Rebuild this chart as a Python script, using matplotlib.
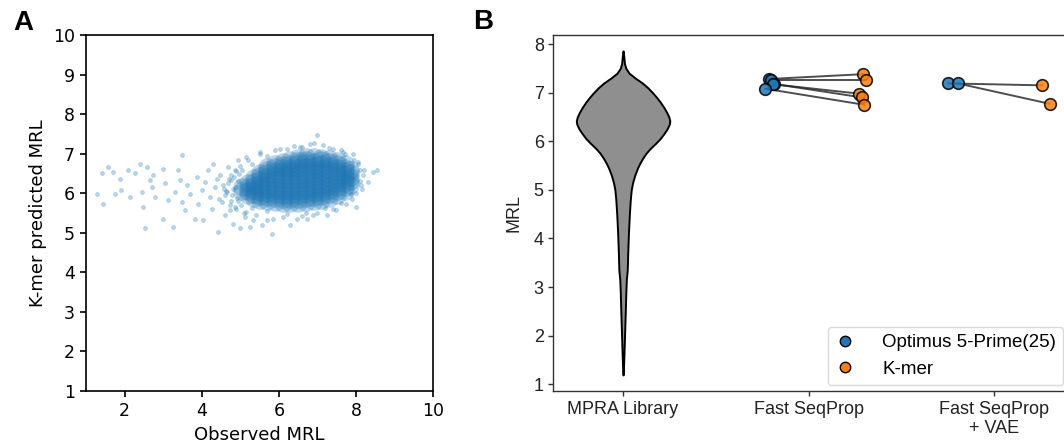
import matplotlib
matplotlib.use('Agg')
import matplotlib.pyplot as plt
from matplotlib.lines import Line2D

# ---- panel A data: observed vs k-mer predicted MRL ----
# scattered points around the cloud
obs_mrl = [1.28, 1.41, 1.45, 1.58, 1.71, 1.75, 1.88, 1.92, 2.10, 2.14, 2.27, 2.40, 2.44,
           2.48, 2.53, 2.57, 2.66, 2.70, 2.74, 2.79, 3.00, 3.00, 3.05, 3.13, 3.26, 3.31,
           3.39, 3.44, 3.48, 3.48, 3.56, 3.61, 3.69, 3.82, 3.87, 3.91, 4.00, 4.04, 4.08,
           4.17, 4.21, 4.26, 4.30, 4.34, 4.43, 4.47, 4.52, 4.60, 4.65, 4.69, 4.77, 4.82,
           4.86, 4.95, 4.99, 5.12, 5.16, 5.25, 5.33, 5.51, 5.55, 5.81, 5.85, 6.03, 6.28,
           6.54, 6.72, 6.80, 6.89, 6.98, 7.15, 7.41, 7.67, 7.75, 7.93, 8.01, 8.05, 8.14,
           8.18, 8.31, 8.44, 8.53, 7.88, 8.10, 7.49, 7.24, 6.46, 5.68, 5.16, 4.73,
           4.90, 5.30, 5.70, 6.20, 6.60, 7.30, 7.70, 7.95, 8.10, 8.00, 7.60, 7.20, 6.70,
           6.20, 5.70, 5.30, 4.95, 4.80, 4.75,
           4.55, 4.60, 4.70, 4.75, 4.85, 4.90, 5.00, 5.10, 5.20, 5.40, 5.50, 5.90, 6.10,
           6.40, 6.60, 6.90, 7.00, 7.40, 7.60, 7.90, 8.05, 8.15, 8.20, 4.40, 4.45,
           4.62, 4.68, 4.78, 4.83, 4.88, 4.92, 4.97, 5.02, 5.05, 4.58, 4.72, 4.93]
pred_mrl = [5.99, 6.50, 5.74, 6.66, 6.54, 5.99, 6.37, 6.08, 6.58, 5.91, 6.50, 6.75, 6.03,
            5.65, 5.11, 6.66, 6.33, 6.16, 6.45, 5.91, 6.62, 5.36, 6.25, 5.82, 5.15, 6.03,
            6.58, 6.33, 6.96, 5.78, 5.57, 6.20, 5.99, 5.36, 6.41, 5.74, 6.08, 5.32, 6.29,
            6.58, 5.91, 5.61, 6.75, 6.16, 5.02, 6.45, 5.78, 5.44, 6.03, 6.66, 6.33, 5.23,
            5.65, 6.83, 5.11, 5.40, 6.92, 5.15, 5.32, 7.04, 5.19, 4.98, 5.36, 7.13, 5.19,
            7.17, 5.36, 7.25, 5.44, 7.46, 7.21, 7.13, 7.04, 5.74, 7.00, 5.65, 6.75, 6.20,
            6.45, 6.29, 6.54, 6.58, 5.99, 6.58, 5.57, 5.44, 5.36, 5.32, 5.53, 5.57,
            6.55, 6.75, 6.95, 7.12, 7.18, 7.15, 7.00, 6.85, 6.30, 6.00, 5.75, 5.62, 5.50,
            5.48, 5.55, 5.62, 5.80, 6.10, 6.45,
            6.20, 5.95, 6.35, 5.80, 6.60, 5.60, 6.70, 5.50, 6.85, 5.45, 7.00, 7.10, 5.40,
            7.20, 5.42, 7.28, 5.50, 5.60, 7.10, 5.85, 6.80, 6.10, 6.60, 6.35, 5.85,
            6.05, 6.25, 5.95, 6.40, 6.15, 5.88, 6.48, 5.70, 6.58, 6.10, 5.70, 6.30]

# dense centre of the cloud: predicted MRL values per observed MRL column
core_obs = [5.05, 5.2, 5.35, 5.5, 5.7, 5.9, 6.1, 6.3, 6.5, 6.7, 6.9, 7.1, 7.3, 7.5, 7.7,
            7.85]
core_pred = [
    [6.05, 6.15],
    [5.95, 6.05, 6.15, 6.25],
    [5.88, 5.98, 6.08, 6.18, 6.28, 6.38],
    [5.84, 5.94, 6.04, 6.14, 6.24, 6.34, 6.44, 6.52],
    [5.80, 5.90, 6.00, 6.10, 6.20, 6.30, 6.40, 6.50, 6.60, 6.66],
    [5.77, 5.87, 5.97, 6.07, 6.17, 6.27, 6.37, 6.47, 6.57, 6.67, 6.74],
    [5.75, 5.85, 5.95, 6.05, 6.15, 6.25, 6.35, 6.45, 6.55, 6.65, 6.72, 6.80],
    [5.75, 5.85, 5.95, 6.05, 6.15, 6.25, 6.35, 6.45, 6.55, 6.65, 6.75, 6.85],
    [5.75, 5.85, 5.95, 6.05, 6.15, 6.25, 6.35, 6.45, 6.55, 6.65, 6.75, 6.82, 6.90],
    [5.77, 5.87, 5.97, 6.07, 6.17, 6.27, 6.37, 6.47, 6.57, 6.67, 6.77, 6.85, 6.92],
    [5.80, 5.90, 6.00, 6.10, 6.20, 6.30, 6.40, 6.50, 6.60, 6.70, 6.80, 6.92],
    [5.83, 5.93, 6.03, 6.13, 6.23, 6.33, 6.43, 6.53, 6.63, 6.73, 6.83, 6.90],
    [5.88, 5.98, 6.08, 6.18, 6.28, 6.38, 6.48, 6.58, 6.68, 6.78, 6.86],
    [5.95, 6.05, 6.15, 6.25, 6.35, 6.45, 6.55, 6.65, 6.75, 6.82],
    [6.05, 6.15, 6.25, 6.35, 6.45, 6.55, 6.65, 6.75],
    [6.20, 6.30, 6.40, 6.50, 6.60],
]

# ---- panel B data ----
groups = ['MPRA Library', 'Fast SeqProp', 'Fast SeqProp\n+ VAE']
# MPRA library MRL distribution (violin outline: MRL level, relative density)
violin_mrl = [7.86, 7.75, 7.60, 7.50, 7.40, 7.30, 7.20, 7.10, 7.00, 6.90, 6.80, 6.70,
              6.60, 6.50, 6.42, 6.35, 6.25, 6.15, 6.05, 5.95, 5.85, 5.75, 5.65, 5.55,
              5.45, 5.30, 5.15, 5.00, 4.80, 4.50, 4.10, 3.70, 3.35, 3.15, 2.90, 2.50,
              2.10, 1.70, 1.40, 1.19]
violin_density = [0.0, 0.015, 0.03, 0.06, 0.13, 0.26, 0.41, 0.53, 0.63, 0.72, 0.80, 0.87,
                  0.93, 0.98, 1.0, 0.99, 0.94, 0.87, 0.79, 0.69, 0.58, 0.49, 0.42, 0.36,
                  0.31, 0.25, 0.205, 0.175, 0.155, 0.135, 0.115, 0.10, 0.09, 0.07, 0.06,
                  0.048, 0.035, 0.022, 0.012, 0.0]
fsp_optimus = [7.28, 7.25, 7.17, 7.18, 7.08]
fsp_kmer = [7.38, 7.25, 6.98, 6.90, 6.75]
vae_optimus = [7.19, 7.19]
vae_kmer = [7.15, 6.77]

blue = '#1f77b4'
orange = '#ff7f0e'

fig = plt.figure(figsize=(10.64, 4.48), dpi=100)

# ---------------- panel A ----------------
axA = fig.add_axes([0.0808, 0.1272, 0.3264, 0.7946])
core_x = []
core_y = []
for xv, ys in zip(core_obs, core_pred):
    for yv in ys:
        core_x.append(xv)
        core_y.append(yv)
axA.scatter(core_x, core_y, s=180, color=blue, alpha=0.3, linewidths=0)
axA.scatter(obs_mrl, pred_mrl, s=8, color=blue, alpha=0.3, linewidths=0.5)
axA.set_xlim(1, 10)
axA.set_ylim(1, 10)
axA.set_xticks([2, 4, 6, 8, 10])
axA.set_yticks(range(1, 11))
axA.tick_params(labelsize=12.5, length=4.5, width=1.2)
for s in axA.spines.values():
    s.set_linewidth(1.2)
axA.set_xlabel('Observed MRL', fontsize=13)
axA.set_ylabel('K-mer predicted MRL', fontsize=13)
fig.text(0.022, 0.948, 'A', fontsize=20, fontweight='bold', family='Liberation Sans',
         ha='center', va='center')

# ---------------- panel B ----------------
fB = 'Liberation Sans'
axB = fig.add_axes([0.5202, 0.1272, 0.4845, 0.7946])
half = 0.252
left = [-half * d for d in violin_density]
right = [half * d for d in violin_density]
axB.fill_betweenx(violin_mrl, left, right, facecolor='#8f8f8f', edgecolor='black',
                  linewidth=1.4, zorder=2)

off_fsp_o = [-0.213, -0.20, -0.186, -0.19, -0.233]
off_fsp_k = [0.295, 0.31, 0.27, 0.29, 0.30]
off_vae_o = [-0.246, -0.196]
off_vae_k = [0.257, 0.30]
for pos, yo, yk, oo, ok in [(1, fsp_optimus, fsp_kmer, off_fsp_o, off_fsp_k),
                            (2, vae_optimus, vae_kmer, off_vae_o, off_vae_k)]:
    xo = [pos + o for o in oo]
    xk = [pos + o for o in ok]
    for a, b, c, d in zip(xo, xk, yo, yk):
        axB.plot([a, b], [c, d], color='#222222', alpha=0.8, lw=1.4, zorder=3)
    axB.scatter(xo, yo, s=70, color=blue, edgecolor='black', linewidths=1.2,
                alpha=0.85, zorder=4)
    axB.scatter(xk, yk, s=70, color=orange, edgecolor='black', linewidths=1.2,
                alpha=0.85, zorder=4)

axB.set_xlim(-0.375, 2.404)
axB.set_ylim(0.86, 8.185)
axB.set_xticks([0, 1, 2])
axB.set_xticklabels(groups, fontsize=13, family=fB)
axB.set_yticks(range(1, 9))
axB.set_yticklabels([str(v) for v in range(1, 9)], fontsize=13, family=fB)
axB.tick_params(length=3.5, width=1, color='#333333', labelcolor='#222222')
for s in axB.spines.values():
    s.set_linewidth(1.0)
    s.set_color('#333333')
axB.set_ylabel('MRL', fontsize=13, family=fB, color='#222222', labelpad=8)

handles = [Line2D([], [], ls='none', marker='o', markersize=7.5, markerfacecolor=blue,
                  markeredgecolor='black', markeredgewidth=1.0),
           Line2D([], [], ls='none', marker='o', markersize=7.5, markerfacecolor=orange,
                  markeredgecolor='black', markeredgewidth=1.0)]
axB.legend(handles, ['Optimus 5-Prime(25)', 'K-mer'], loc='lower right',
           prop={'family': fB, 'size': 13.5}, handlelength=1.0, handletextpad=1.5,
           borderaxespad=0.3, edgecolor='#d0d0d0')
fig.text(0.454, 0.951, 'B', fontsize=20, fontweight='bold', family=fB,
         ha='center', va='center')

fig.savefig('out.png', dpi=100)
